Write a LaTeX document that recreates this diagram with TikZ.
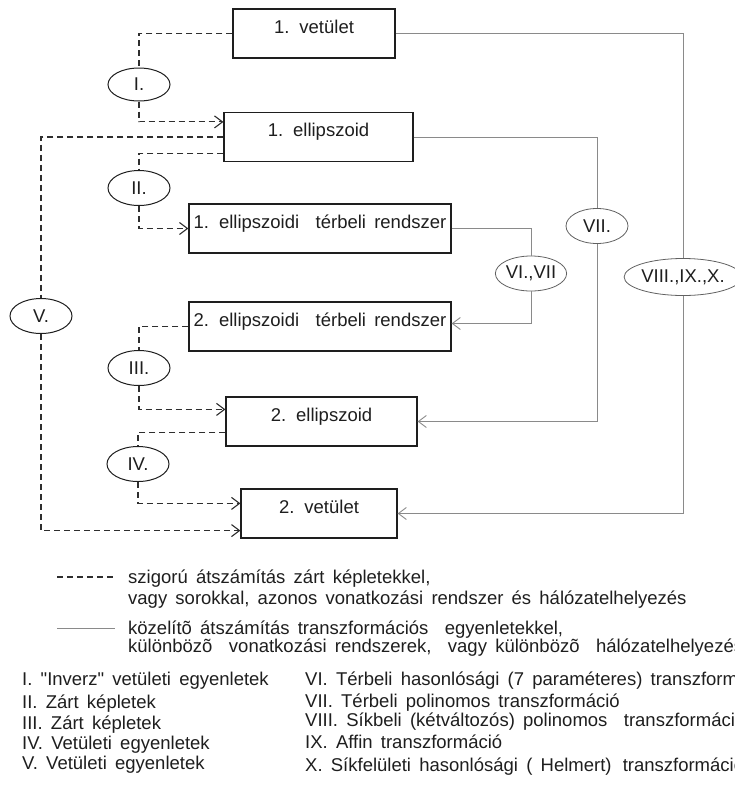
\documentclass[tikz,border=0pt]{standalone}
\usepackage{fontspec}
\setmainfont{Liberation Sans}[WordSpace=1.6, Ligatures=TeXOff]
\usetikzlibrary{shapes.geometric,arrows.meta}
\definecolor{ink}{HTML}{1E1E1E}
\definecolor{dashink}{HTML}{2E2E2E}
\definecolor{approxgray}{HTML}{8A8A8A}
\begin{document}
\begin{tikzpicture}[x=1pt,y=-1pt,
    font=\fontsize{18.5}{21}\selectfont, text=ink,
    box/.style={draw=ink, line width=1.2pt, inner sep=0pt, text height=24pt, text depth=25pt},
    tag/.style={ellipse, draw=ink, line width=1pt, inner sep=0pt, minimum width=62pt, minimum height=35pt},
    tagg/.style={tag, draw=approxgray!70!black, line width=0.8pt},
    exact/.style={draw=dashink, line width=1.1pt, dash pattern=on 6pt off 4pt},
    approx/.style={draw=approxgray, line width=0.9pt},
    tip/.style={-{Straight Barb[length=8pt,width=12pt]}},
    note/.style={anchor=base west, inner sep=0pt}]
    \useasboundingbox (0,0) rectangle (735,785);
    \clip (0,0) rectangle (735,785);

    \node[box, minimum width=162pt] (v1) at (314,33.5)  {1. vetület};
    \node[box, minimum width=189pt] (e1) at (318.5,137) {1. ellipszoid};
    \node[box, minimum width=262pt] (r1) at (320,228.5) {1. ellipszoidi\ \ térbeli rendszer};
    \node[box, minimum width=262pt] (r2) at (320,326.5) {2. ellipszoidi\ \ térbeli rendszer};
    \node[box, minimum width=191pt] (e2) at (321.5,421.5) {2. ellipszoid};
    \node[box, minimum width=156pt] (v2) at (319,513.5) {2. vetület};

    \node[tag, minimum height=33pt] (t1) at (139,84.5) {I.};
    \node[tag] (t2)  at (139,188) {II.};
    \node[tag] (t3)  at (139,368) {III.};
    \node[tag] (t4)  at (138,464) {IV.};
    \node[tag] (t5)  at (41,316)  {V.};
    \node[tagg] (t7) at (597,226) {VII.};
    \node[tagg, minimum width=56pt] (t67) at (531,273.5) {VI.,VII};
    \node[tagg, minimum width=106pt, minimum height=37pt] (t810) at (683,277) {VIII.,IX.,X.};

    \draw[exact] (v1.west) -| (t1.north);
    \draw[exact, tip] (t1.south) |- ([yshift=-10pt]e1.north west);
    \draw[exact] (e1.west) -| (t5.north);
    \draw[exact, tip] (t5.south) |- ([yshift=8pt]v2.south west);
    \draw[exact] ([yshift=9pt]e1.south west) -| (t2.north);
    \draw[exact, tip] (t2.south) |- (r1.west);
    \draw[exact] (r2.west) -| (t3.north);
    \draw[exact, tip] (t3.south) |- ([yshift=-13pt]e2.north west);
    \draw[exact] ([yshift=14pt]e2.south west) -| (t4.north);
    \draw[exact, tip] (t4.south) |- ([yshift=-15pt]v2.north west);

    \draw[approx] (v1.east) -| (t810.north);
    \draw[approx, tip] (t810.south) |- (v2.east);
    \draw[approx] (e1.east) -| (t7.north);
    \draw[approx, tip] (t7.south) |- (e2.east);
    \draw[approx] (r1.east) -| (t67.north);
    \draw[approx, tip] (t67.south) |- ([yshift=3pt]r2.east);

    \draw[exact] (57,577) -- (115,577);
    \node[note] (leg1) at (128,583) {szigorú átszámítás zárt képletekkel,};
    \node[note] (leg2) at (128,604) {vagy sorokkal, azonos vonatkozási rendszer és hálózatelhelyezés};
    \draw[approx] (57,628) -- (115,628);
    \node[note] (leg3) at (128,634) {közelítõ átszámítás transzformációs\ \ egyenletekkel,};
    \node[note] (leg4) at (128,652) {különbözõ\ \ vonatkozási rendszerek,\ \ vagy különbözõ\ \ hálózatelhelyezés};

    \node[note] (d1)  at (22,685)  {I. "Inverz" vetületi egyenletek};
    \node[note] (d2)  at (22,708)  {II. Zárt képletek};
    \node[note] (d3)  at (22,729)  {III. Zárt képletek};
    \node[note] (d4)  at (22,749)  {IV. Vetületi egyenletek};
    \node[note] (d5)  at (22,769)  {V. Vetületi egyenletek};
    \node[note] (d6)  at (305,685) {VI. Térbeli hasonlósági (7 paraméteres) transzformáció};
    \node[note] (d7)  at (305,707) {VII. Térbeli polinomos transzformáció};
    \node[note] (d8)  at (305,726) {VIII. Síkbeli (kétváltozós) polinomos\ \ transzformáció};
    \node[note] (d9)  at (305,748) {IX. Affin transzformáció};
    \node[note] (d10) at (305,771) {X. Síkfelületi hasonlósági ( Helmert)\hspace{3pt} transzformáció};
\end{tikzpicture}
\end{document}
